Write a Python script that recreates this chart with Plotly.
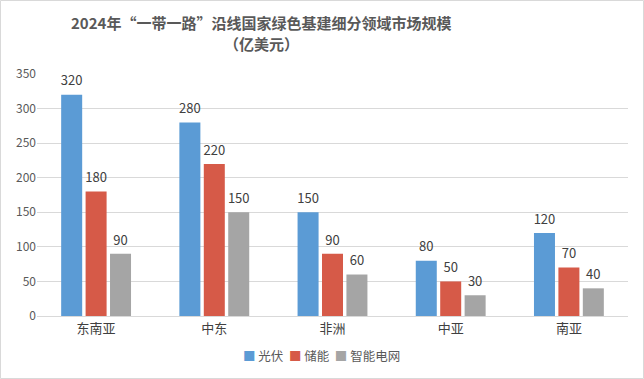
import plotly.graph_objects as go

categories = ["东南亚", "中东", "非洲", "中亚", "南亚"]
solar = [320, 280, 150, 80, 120]
storage = [180, 220, 90, 50, 70]
grid = [90, 150, 60, 30, 40]
series_names = ["光伏", "储能", "智能电网"]
colors = ["#5B9BD5", "#D65A48", "#A5A5A5"]
y_ticks = [0, 50, 100, 150, 200, 250, 300, 350]

font_family = "Noto Sans CJK SC, Microsoft YaHei, sans-serif"
W, H = 644, 379
ML, MR, MT, MB = 37, 16, 74, 63
PW, PH = W - ML - MR, H - MT - MB

fig = go.Figure()
for i, (name, vals, c) in enumerate(zip(series_names, [solar, storage, grid], colors)):
    fig.add_trace(go.Bar(
        x=categories, y=vals, name=name, marker=dict(color=c, line=dict(width=0)),
        offsetgroup=str(i), alignmentgroup="a", showlegend=False, hoverinfo="skip",
    ))
    fig.add_trace(go.Scatter(
        x=categories, y=vals, mode="markers+text", text=[str(v) for v in vals],
        textposition="top center", offsetgroup=str(i), alignmentgroup="a",
        marker=dict(size=8, opacity=0), showlegend=False, hoverinfo="skip",
        textfont=dict(size=13, color="#404040", family=font_family),
        cliponaxis=False,
    ))

def px_x(p):
    return (p - ML) / PW

def px_y(p):
    return (H - MB - p) / PH

legend_text = "  ".join(
    f"<span style='color:{c}'>■</span> {n}" for n, c in zip(series_names, colors)
)

fig.update_layout(
    width=W, height=H,
    margin=dict(l=ML, r=MR, t=MT, b=MB),
    paper_bgcolor="white", plot_bgcolor="white",
    barmode="group", bargap=0.38, bargroupgap=0.14,
    scattermode="group", scattergap=0.38,
    font=dict(family=font_family, color="#595959", size=12),
    annotations=[
        dict(text="<b>2024年“一带一路”沿线国家绿色基建细分领域市场规模</b>",
             xref="paper", yref="paper", x=px_x(261), y=px_y(22),
             xanchor="center", yanchor="middle", showarrow=False,
             font=dict(size=15, color="#595959", family=font_family)),
        dict(text="<b>（亿美元）</b>",
             xref="paper", yref="paper", x=px_x(261), y=px_y(43),
             xanchor="center", yanchor="middle", showarrow=False,
             font=dict(size=15, color="#595959", family=font_family)),
        dict(text=legend_text,
             xref="paper", yref="paper", x=px_x(321), y=px_y(355),
             xanchor="center", yanchor="middle", showarrow=False,
             font=dict(size=12.5, color="#595959", family=font_family)),
    ],
    shapes=[dict(type="rect", xref="paper", yref="paper",
                 x0=px_x(0.5), x1=px_x(W - 0.5), y0=px_y(H - 0.5), y1=px_y(0.5),
                 line=dict(color="#D9D9D9", width=1))],
)
fig.update_yaxes(range=[0, 350], tickvals=y_ticks, showgrid=True, gridcolor="#D9D9D9",
                 gridwidth=1, zeroline=False, showline=False, ticks="",
                 tickfont=dict(size=12, color="#595959"))
fig.update_xaxes(showline=True, linecolor="#D9D9D9", linewidth=1, ticks="",
                 tickfont=dict(size=13, color="#404040"))

fig.write_html("out.html", config={"displayModeBar": False},
               post_script="document.body.style.margin='0';document.body.style.overflow='hidden';")
